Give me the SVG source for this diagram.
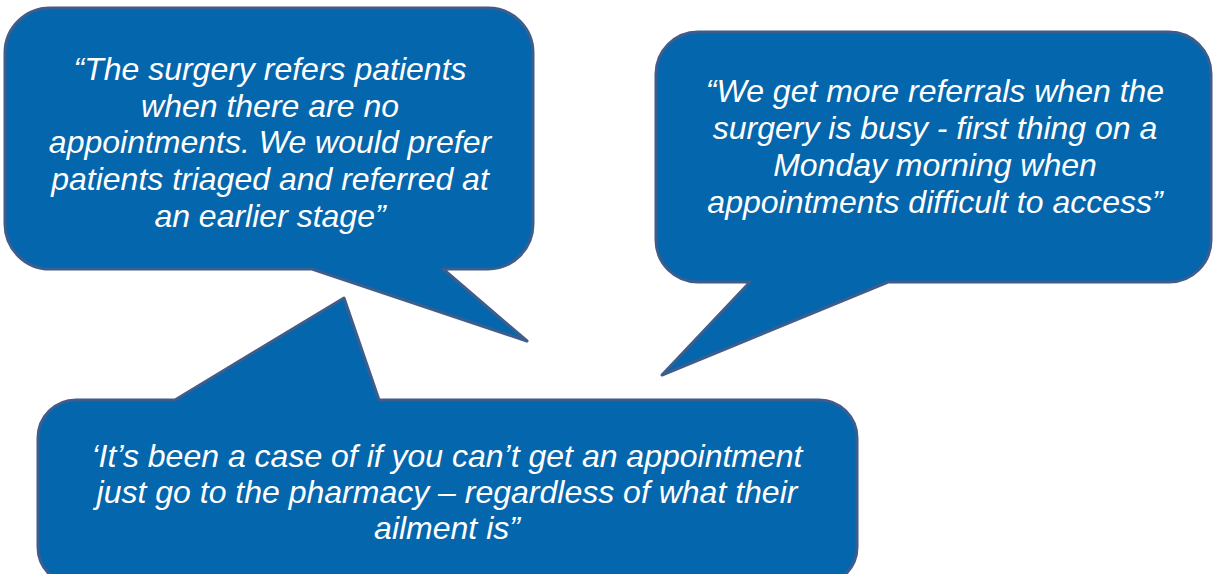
<svg xmlns="http://www.w3.org/2000/svg" width="1213" height="574" viewBox="0 0 1213 574">
<style>
.bubble{fill:#0466ac;stroke:#3d5d8c;stroke-width:3;stroke-linejoin:round}
.t{font-family:"Liberation Sans",Arial,sans-serif;font-style:italic;font-size:32px;fill:#ffffff;text-anchor:middle}
</style>
<rect width="1213" height="574" fill="#ffffff"/>
<g id="bubble1">
<path class="bubble" d="M50,8 H488 A45,45 0 0 1 533,53 V224 A45,45 0 0 1 488,269 H443 L527,341 L312,269 H50 A45,45 0 0 1 5,224 V53 A45,45 0 0 1 50,8 Z"/>
<text class="t" x="270"><tspan x="270" y="80">“The surgery refers patients</tspan><tspan x="270" y="117">when there are no</tspan><tspan x="270" y="153">appointments. We would prefer</tspan><tspan x="270" y="190">patients triaged and referred at</tspan><tspan x="270" y="227">an earlier stage”</tspan></text>
</g>
<g id="bubble2">
<path class="bubble" d="M698,32 H1169 A42,42 0 0 1 1211,74 V240 A42,42 0 0 1 1169,282 H888 L662,375 L750,282 H698 A42,42 0 0 1 656,240 V74 A42,42 0 0 1 698,32 Z"/>
<text class="t" x="935"><tspan x="935" y="102">“We get more referrals when the</tspan><tspan x="935" y="139">surgery is busy - first thing on a</tspan><tspan x="935" y="176">Monday morning when</tspan><tspan x="935" y="213">appointments difficult to access”</tspan></text>
</g>
<g id="bubble3">
<path class="bubble" d="M76,400 H175 L344,298 L379,400 H819 A38,38 0 0 1 857,438 V547 A38,38 0 0 1 819,585 H76 A38,38 0 0 1 38,547 V438 A38,38 0 0 1 76,400 Z"/>
<text class="t" x="447"><tspan x="447" y="467">‘It’s been a case of if you can’t get an appointment</tspan><tspan x="447" y="503">just go to the pharmacy – regardless of what their</tspan><tspan x="447" y="539">ailment is”</tspan></text>
</g>
<g id="connectors"/>
</svg>
